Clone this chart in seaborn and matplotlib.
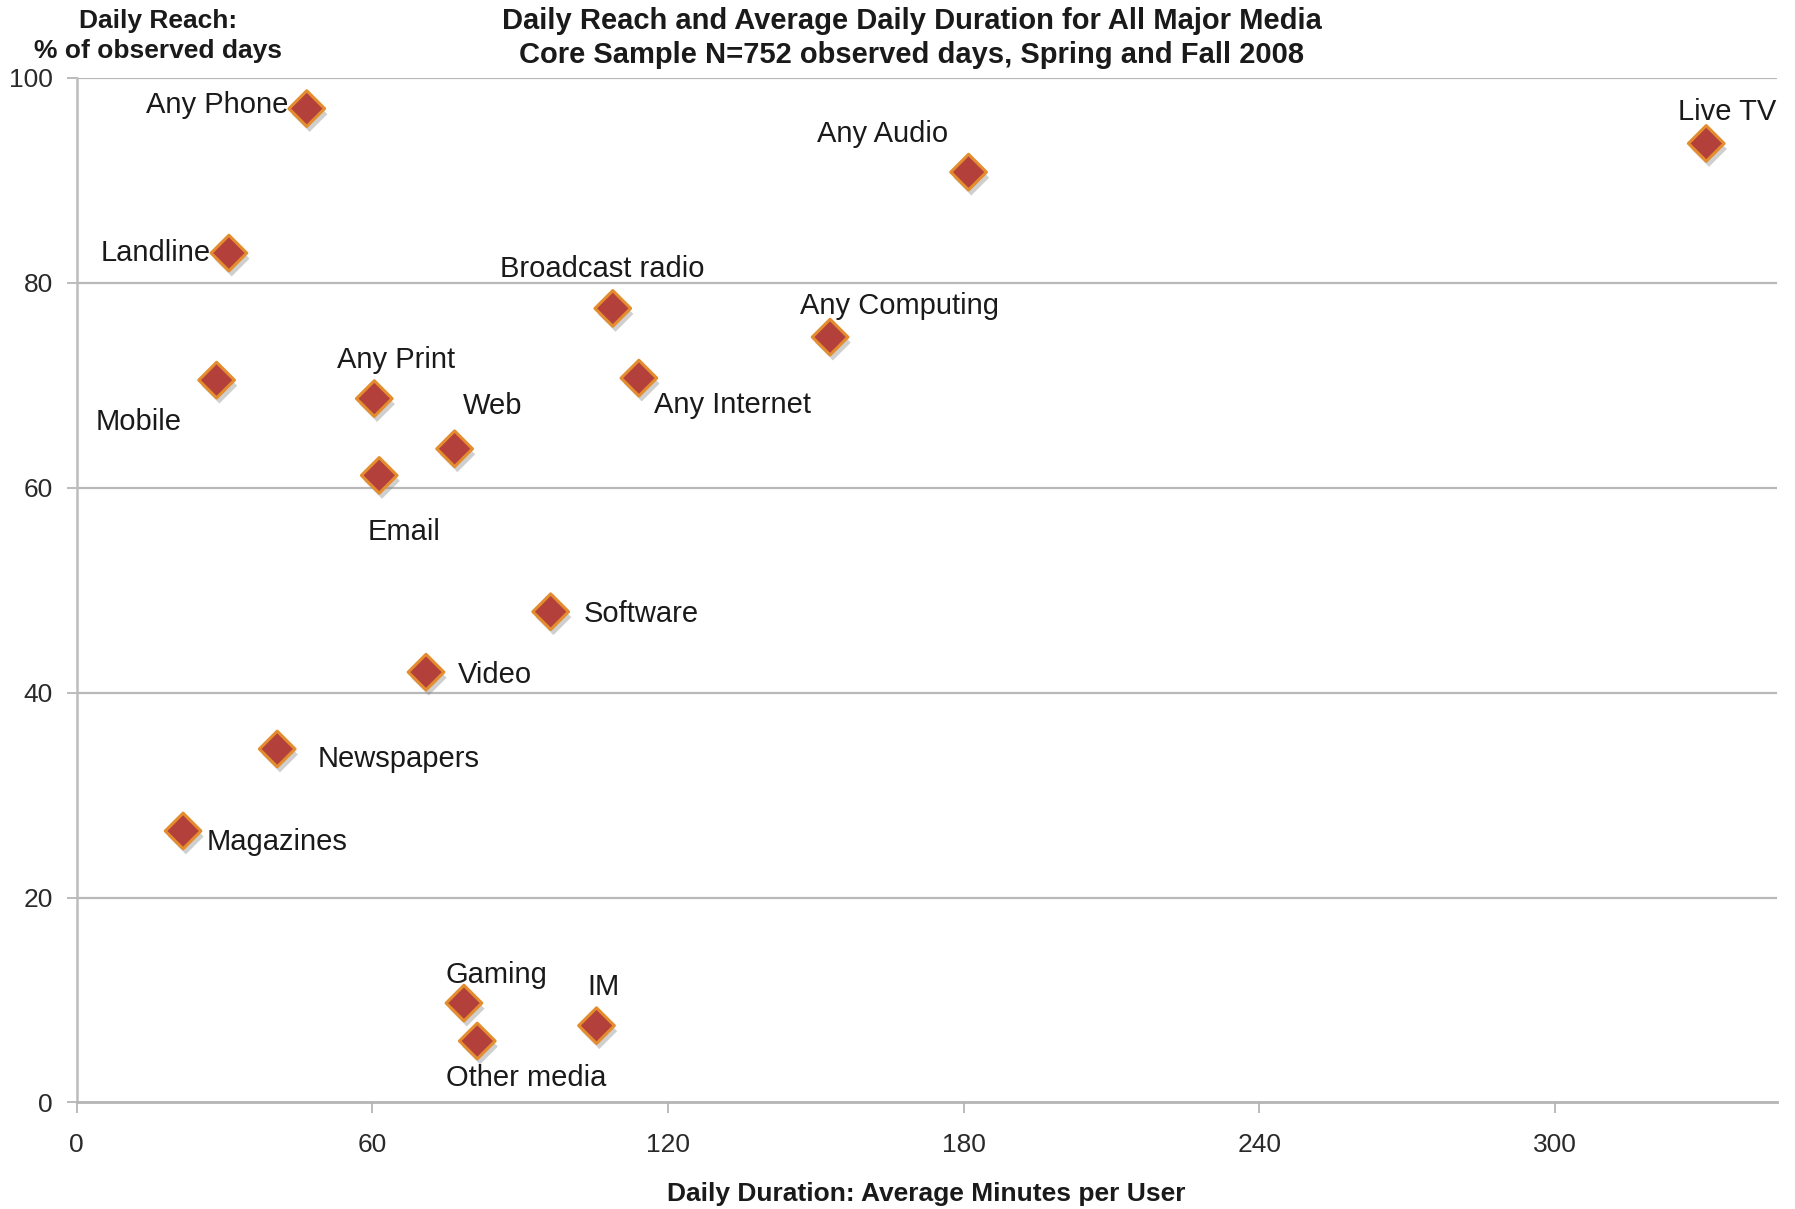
import matplotlib
matplotlib.use("Agg")
import matplotlib.pyplot as plt
import matplotlib.patheffects as pe
import seaborn as sns
import pandas as pd

# ---- data ----
media = ["Any Phone", "Landline", "Mobile", "Any Print", "Email", "Web",
         "Broadcast radio", "Any Internet", "Any Computing", "Any Audio", "Live TV",
         "Software", "Video", "Newspapers", "Magazines", "Gaming", "IM", "Other media"]
duration = [46.7, 30.9, 28.4, 60.4, 61.4, 76.7,
            108.8, 114.1, 152.9, 181.0, 330.7,
            96.2, 70.9, 40.7, 21.6, 78.6, 105.5, 81.3]
reach = [97.0, 82.9, 70.5, 68.7, 61.2, 63.8,
         77.5, 70.7, 74.7, 90.8, 93.6,
         47.9, 42.0, 34.5, 26.5, 9.7, 7.5, 6.0]
x_ticks = [0, 60, 120, 180, 240, 300]
y_ticks = [0, 20, 40, 60, 80, 100]

title = "Daily Reach and Average Daily Duration for All Major Media\nCore Sample N=752 observed days, Spring and Fall 2008"
y_title = "Daily Reach:\n% of observed days"
x_title = "Daily Duration: Average Minutes per User"

# label placement (offset in pixels, horizontal alignment)
label_place = {
    "Any Phone": (-18, 4, "right"),
    "Landline": (-18, 0, "right"),
    "Mobile": (-78, -42, "center"),
    "Any Print": (22, 39, "center"),
    "Email": (25, -57, "center"),
    "Web": (38, 43, "center"),
    "Broadcast radio": (-11, 39, "center"),
    "Any Internet": (15, -27, "left"),
    "Any Computing": (69, 31, "center"),
    "Any Audio": (-86, 38, "center"),
    "Live TV": (21, 31, "center"),
    "Software": (33, -2, "left"),
    "Video": (32, -3, "left"),
    "Newspapers": (40, -10, "left"),
    "Magazines": (24, -11, "left"),
    "Gaming": (32, 28, "center"),
    "IM": (7, 39, "center"),
    "Other media": (49, -37, "center"),
}

df = pd.DataFrame({"media": media, "duration": duration, "reach": reach})

sns.set_theme(style="white")
plt.rcParams["font.family"] = ["Liberation Sans", "DejaVu Sans"]

fig = plt.figure(figsize=(17.95, 12.09), dpi=100)
ax = fig.add_axes([0.0427, 0.0881, 0.9471, 0.8475])

sns.scatterplot(data=df, x="duration", y="reach", ax=ax, marker="D", s=330,
                color="#b3403b", edgecolor="#e38d2e", linewidth=2.2, zorder=5,
                legend=False)
for coll in ax.collections:
    coll.set_path_effects([pe.SimplePatchShadow(offset=(2, -4), shadow_rgbFace="#888888", alpha=0.4),
                           pe.Normal()])

for name, xv, yv in zip(media, duration, reach):
    dx, dy, ha = label_place[name]
    ax.annotate(name, (xv, yv), xytext=(dx, dy), textcoords="offset pixels",
                ha=ha, va="center", fontsize=21, color="#1a1a1a", zorder=6)

ax.set_xlim(0, 345)
ax.set_ylim(0, 100)
ax.set_xticks(x_ticks)
ax.set_yticks(y_ticks)
ax.set_xlabel("")
ax.set_ylabel("")

for y in y_ticks[1:]:
    ax.axhline(y, color="#b8b8b8", linewidth=1.6, zorder=1)

for s in ["top", "right"]:
    ax.spines[s].set_visible(False)
ax.spines["left"].set_color("#bcbcbc")
ax.spines["left"].set_linewidth(1.8)
ax.spines["bottom"].set_color("#b4b4b4")
ax.spines["bottom"].set_linewidth(2.0)

ax.tick_params(axis="both", which="major", direction="out", width=1.4,
               color="#bcbcbc", labelsize=19, labelcolor="#2a2a2a")
ax.tick_params(axis="x", pad=14, length=8, bottom=True)
ax.tick_params(axis="y", pad=10, length=7, left=True)

fig.text(0.508, 0.9685, title, ha="center", va="center", fontsize=21,
         fontweight="bold", color="#1a1a1a", linespacing=1.27)
fig.text(0.088, 0.9705, y_title, ha="center", va="center", fontsize=19,
         fontweight="bold", color="#1a1a1a", linespacing=1.32)
fig.text(0.516, 0.0124, x_title, ha="center", va="center", fontsize=19,
         fontweight="bold", color="#1a1a1a")

fig.savefig("out.png", dpi=100)
